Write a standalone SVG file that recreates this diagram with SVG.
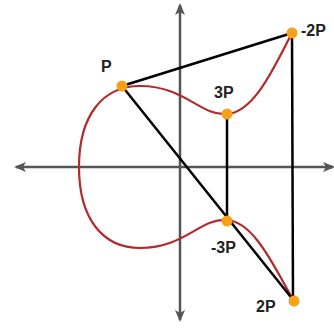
<svg xmlns="http://www.w3.org/2000/svg" width="334" height="332" viewBox="0 0 334 332">
<defs>
<marker id="ah" viewBox="0 0 12 10" refX="10" refY="5" markerWidth="13" markerHeight="10" markerUnits="userSpaceOnUse" orient="auto-start-reverse">
<path d="M0,0 L12,5 L0,10 L3,5 Z" fill="#555"/>
</marker>
<style>
.axis{stroke:#555;stroke-width:2.5;fill:none}
.line{stroke:#000;stroke-width:2.5;fill:none}
.curve{stroke:#b22a2a;stroke-width:2.2;fill:none}
.dot{fill:#f7a11a}
.lbl{font-family:"Liberation Sans",Arial,sans-serif;font-weight:bold;font-size:16px;fill:#222}
</style>
</defs>
<rect width="334" height="332" fill="#fff"/>
<g id="axes">
<line class="axis" x1="180" y1="320" x2="180" y2="5" marker-start="url(#ah)" marker-end="url(#ah)"/>
<line class="axis" x1="16" y1="167" x2="333" y2="167" marker-start="url(#ah)" marker-end="url(#ah)"/>
</g>
<g id="curve">
<path class="curve" d="M292,33 C275,65 255,112 227,114 C200,116 185,86 140,86 C103,86 79,115 79,167 C79,219 103,248 140,248 C185,248 200,218 227,220 C255,222 275,269 294,301"/>
</g>
<g id="connectors">
<line class="line" x1="122" y1="86" x2="292" y2="33"/>
<line class="line" x1="122" y1="86" x2="294" y2="301"/>
<line class="line" x1="292" y1="33" x2="293" y2="301"/>
<line class="line" x1="227" y1="114" x2="227" y2="221"/>
</g>
<g id="P"><circle class="dot" cx="122" cy="86" r="5.5"/><text class="lbl" x="101" y="72">P</text></g>
<g id="n-2P"><circle class="dot" cx="292" cy="33" r="5.5"/><text class="lbl" x="301" y="36">-2P</text></g>
<g id="n3P"><circle class="dot" cx="227" cy="114" r="5.5"/><text class="lbl" x="214" y="98">3P</text></g>
<g id="n-3P"><circle class="dot" cx="227" cy="221" r="5.5"/><text class="lbl" x="211" y="253">-3P</text></g>
<g id="n2P"><circle class="dot" cx="294" cy="301" r="5.5"/><text class="lbl" x="256" y="312">2P</text></g>
</svg>
